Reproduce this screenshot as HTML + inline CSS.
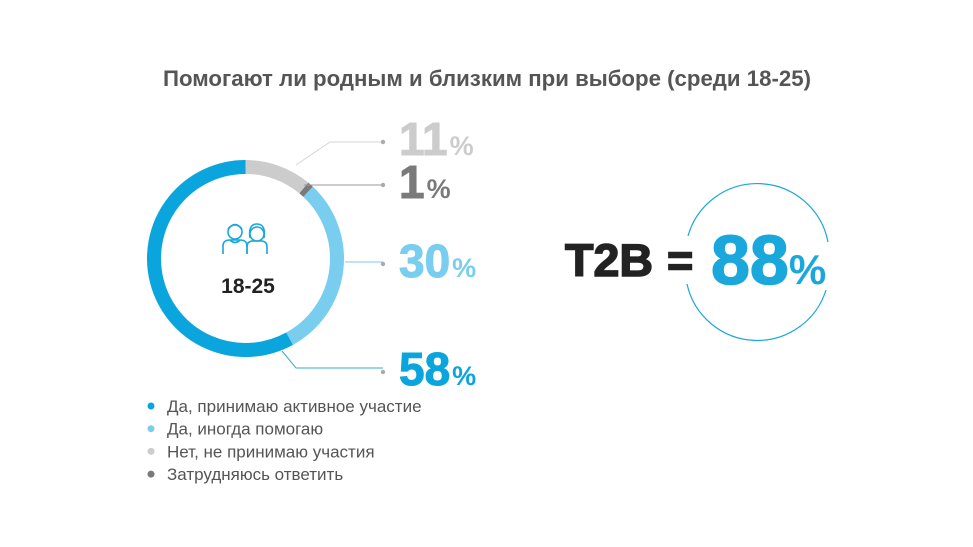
<!DOCTYPE html>
<html><head><meta charset="utf-8"><style>
body{margin:0;background:#fff;width:973px;height:547px;overflow:hidden;font-family:"Liberation Sans",sans-serif}
svg{display:block}
</style></head><body>
<svg id="chart" width="973" height="547">
<text x="487" y="86" text-anchor="middle" font-size="22" font-weight="bold" fill="#555" textLength="648" lengthAdjust="spacingAndGlyphs">Помогают ли родным и близким при выборе (среди 18-25)</text>
<g id="arcs"></g>
<g id="leaders"></g>
<g id="labels"></g>
<g fill="none" stroke="#1aa7dc" stroke-width="1.6">
<circle cx="235" cy="232" r="7"/><path d="M228 229 q7 -9 14 0"/>
<path d="M223 254 v-8 q0 -6 7 -6 h10 q7 0 7 6 v8"/><path d="M230 240 q5 5 10 0"/>
<circle cx="257" cy="234" r="7"/><path d="M250 238 q-2 -14 7 -14 q9 0 7 14"/>
<path d="M247 254 v-7 q0 -6 6 -6 h8 q6 0 6 6 v7"/>
</g>
<text x="248" y="293" text-anchor="middle" font-size="21" font-weight="bold" fill="#222">18-25</text>
<g id="legend"></g>
<text x="565" y="276" font-size="45" font-weight="900" fill="#222" stroke="#222" stroke-width="1.5" textLength="88" lengthAdjust="spacingAndGlyphs">T2B</text>
<text x="667" y="276" font-size="45" font-weight="900" fill="#222" stroke="#222" stroke-width="1.5">=</text>
<text x="711" y="284" font-size="70" font-weight="900" fill="#1aa7dc"><tspan stroke="#1aa7dc" stroke-width="1.5">88</tspan><tspan font-size="42">%</tspan></text>
<path d="M688 236 A72 72 0 0 1 828 242" fill="none" stroke="#1aa7dc" stroke-width="1.2"/>
<path d="M687 284 A72 72 0 0 0 826 290" fill="none" stroke="#1aa7dc" stroke-width="1.2"/>
</svg>
<script>
const categories=["Да, принимаю активное участие","Да, иногда помогаю","Нет, не принимаю участия","Затрудняюсь ответить"];
const values=[58,30,11,1];
const colors=["#0aa5dc","#79cdef","#cccccc","#7a7a7a"];
const drawOrder=[2,3,1,0];
const labelY=[385,277,155,198];
const leaderPaths=["282,351 296,368 383,368","345,262 383,262","296,165 330,142 383,142","304,185 383,185"];
const leaderColors=["#3aa8d0","#79cdef","#d5d5d5","#999"];
const NS="http://www.w3.org/2000/svg";
const cx=245.5,cy=258.5,r=91.5,sw=14;
function mk(t,a,p){const e=document.createElementNS(NS,t);for(const k in a)e.setAttribute(k,a[k]);p.appendChild(e);return e;}
const total=values.reduce((a,b)=>a+b,0);
function pt(frac,rad){const a=frac*2*Math.PI-Math.PI/2;return [cx+rad*Math.cos(a),cy+rad*Math.sin(a)];}
let acc=0;
const arcs=document.getElementById('arcs'),leaders=document.getElementById('leaders'),labels=document.getElementById('labels');
drawOrder.forEach(i=>{
  const s=acc/total,e=(acc+values[i])/total;acc+=values[i];
  const p0=pt(s,r),p1=pt(e,r),large=(e-s)>0.5?1:0;
  const path=mk('path',{d:`M${p0[0]} ${p0[1]} A${r} ${r} 0 ${large} 1 ${p1[0]} ${p1[1]}`,fill:'none',stroke:colors[i],'stroke-width':sw},arcs);
  
  
  const ly=labelY[i]-13;
  const ln=mk('polyline',{points:leaderPaths[i],fill:'none',stroke:leaderColors[i],'stroke-width':1},leaders);
  
  
  const d=mk('circle',{cx:383,cy:ly,r:2.2,fill:'#aaa'},leaders);
  
  
  const t=mk('text',{x:399,y:labelY[i],'font-size':46,'font-weight':900,fill:colors[i],stroke:colors[i],'stroke-width':1},labels);
  
  
  const a=mk('tspan',{},t);a.textContent=values[i];
  const b=mk('tspan',{'font-size':27,dx:2,'stroke-width':0},t);b.textContent='%';
});
const lg=document.getElementById('legend');
categories.forEach((c,i)=>{
  const y=406+i*22.7;
  const d=mk('circle',{cx:151,cy:y,r:3.5,fill:colors[i]},lg);
  
  
  const t=mk('text',{x:167,y:y+6,'font-size':17,fill:'#555'},lg);
  
  
  t.textContent=c;
});
</script>
</body></html>
